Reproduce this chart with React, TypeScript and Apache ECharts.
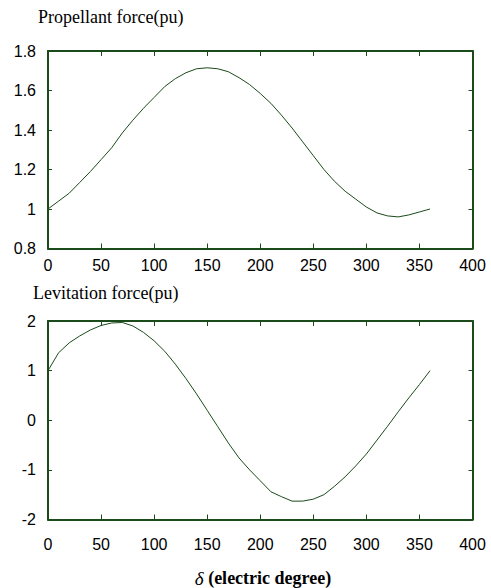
import React, { useEffect, useRef } from "react";
import * as echarts from "echarts";

const degrees = [0, 10, 20, 30, 40, 50, 60, 70, 80, 90, 100, 110, 120, 130, 140, 150, 160, 170, 180, 190, 200, 210, 220, 230, 240, 250, 260, 270, 280, 290, 300, 310, 320, 330, 340, 350, 360];

const propellant = [1.0, 1.04, 1.08, 1.135, 1.19, 1.25, 1.31, 1.385, 1.45, 1.51, 1.565, 1.62, 1.66, 1.69, 1.71, 1.715, 1.71, 1.695, 1.665, 1.63, 1.585, 1.535, 1.475, 1.41, 1.34, 1.27, 1.2, 1.14, 1.09, 1.05, 1.01, 0.98, 0.965, 0.96, 0.97, 0.985, 1.0];

const levitation = [1.0, 1.36, 1.56, 1.7, 1.82, 1.91, 1.96, 1.97, 1.9, 1.77, 1.6, 1.39, 1.13, 0.84, 0.53, 0.2, -0.13, -0.46, -0.76, -1.0, -1.22, -1.44, -1.54, -1.63, -1.63, -1.59, -1.5, -1.33, -1.14, -0.92, -0.68, -0.4, -0.12, 0.17, 0.45, 0.72, 1.0];

const xRange = { min: 0, max: 400, interval: 50 };
const propRange = { min: 0.8, max: 1.8, interval: 0.2 };
const levRange = { min: -2, max: 2, interval: 1 };

const titles = ["Propellant force(pu)", "Levitation force(pu)"];
const xTitleSymbol = "δ";
const xTitleText = " (electric degree)";

const GREEN = "#1b4a1b";
const SERIF = "'Liberation Serif', 'Times New Roman', serif";
const SANS = "'Liberation Sans', Arial, sans-serif";

export default function App() {
  const ref = useRef<HTMLDivElement>(null);
  useEffect(() => {
    document.body.style.margin = "0";
    if (!ref.current) return;
    const chart = echarts.init(ref.current, null, { renderer: "svg" });
    const axisLine = { show: true, lineStyle: { color: GREEN, width: 2 } };
    const makeX = (gridIndex: number, pos: "bottom" | "top", labelMargin: number) => ({
      type: "value",
      gridIndex,
      position: pos,
      ...xRange,
      axisLine: { ...axisLine, onZero: false },
      axisTick: { show: true, inside: true, length: 5, lineStyle: { color: GREEN, width: 1 } },
      axisLabel: {
        show: pos === "bottom",
        margin: labelMargin,
        color: "#000",
        fontFamily: SANS,
        fontSize: 16,
        showMinLabel: true,
        showMaxLabel: true,
      },
      splitLine: { show: false },
    });
    const makeY = (gridIndex: number, pos: "left" | "right", range: any) => ({
      type: "value",
      gridIndex,
      position: pos,
      ...range,
      axisLine: { ...axisLine, onZero: false },
      axisTick: { show: true, inside: true, length: 4, lineStyle: { color: GREEN, width: 1 } },
      axisLabel: {
        show: pos === "left",
        margin: 12,
        color: "#000",
        fontFamily: SANS,
        fontSize: 16,
      },
      splitLine: { show: false },
    });
    const toPairs = (vals: number[]) => degrees.map((d, i) => [d, vals[i]]);
    chart.setOption({
      animation: false,
      backgroundColor: "#fff",
      grid: [
        { left: 48, right: 18.5, top: 51, height: 197.5 },
        { left: 48, right: 18.5, top: 321, height: 198.5 },
      ],
      xAxis: [makeX(0, "bottom", 9), makeX(0, "top", 8), makeX(1, "bottom", 17), makeX(1, "top", 8)],
      yAxis: [makeY(0, "left", propRange), makeY(0, "right", propRange), makeY(1, "left", levRange), makeY(1, "right", levRange)],
      series: [
        {
          type: "line",
          xAxisIndex: 0,
          yAxisIndex: 0,
          data: toPairs(propellant),
          showSymbol: false,
          symbol: "none",
          lineStyle: { color: GREEN, width: 1 },
        },
        {
          type: "line",
          xAxisIndex: 2,
          yAxisIndex: 2,
          data: toPairs(levitation),
          showSymbol: false,
          symbol: "none",
          lineStyle: { color: GREEN, width: 1 },
        },
      ],
      graphic: [
        {
          type: "text",
          left: 38,
          top: 8,
          style: { text: titles[0], fill: "#000", font: `18px ${SERIF}` },
        },
        {
          type: "text",
          left: 33,
          top: 284,
          style: { text: titles[1], fill: "#000", font: `18px ${SERIF}` },
        },
        {
          type: "text",
          x: 263,
          y: 578,
          style: {
            text: `{s|${xTitleSymbol}}{t|${xTitleText}}`,
            align: "center",
            verticalAlign: "middle",
            rich: {
              s: { fontFamily: SERIF, fontStyle: "italic", fontSize: 19, fill: "#000" },
              t: { fontFamily: SERIF, fontWeight: "bold", fontSize: 18, fill: "#000" },
            },
          },
        },
      ],
    });
    return () => chart.dispose();
  }, []);
  return <div ref={ref} style={{ width: 491, height: 588 }} />;
}
